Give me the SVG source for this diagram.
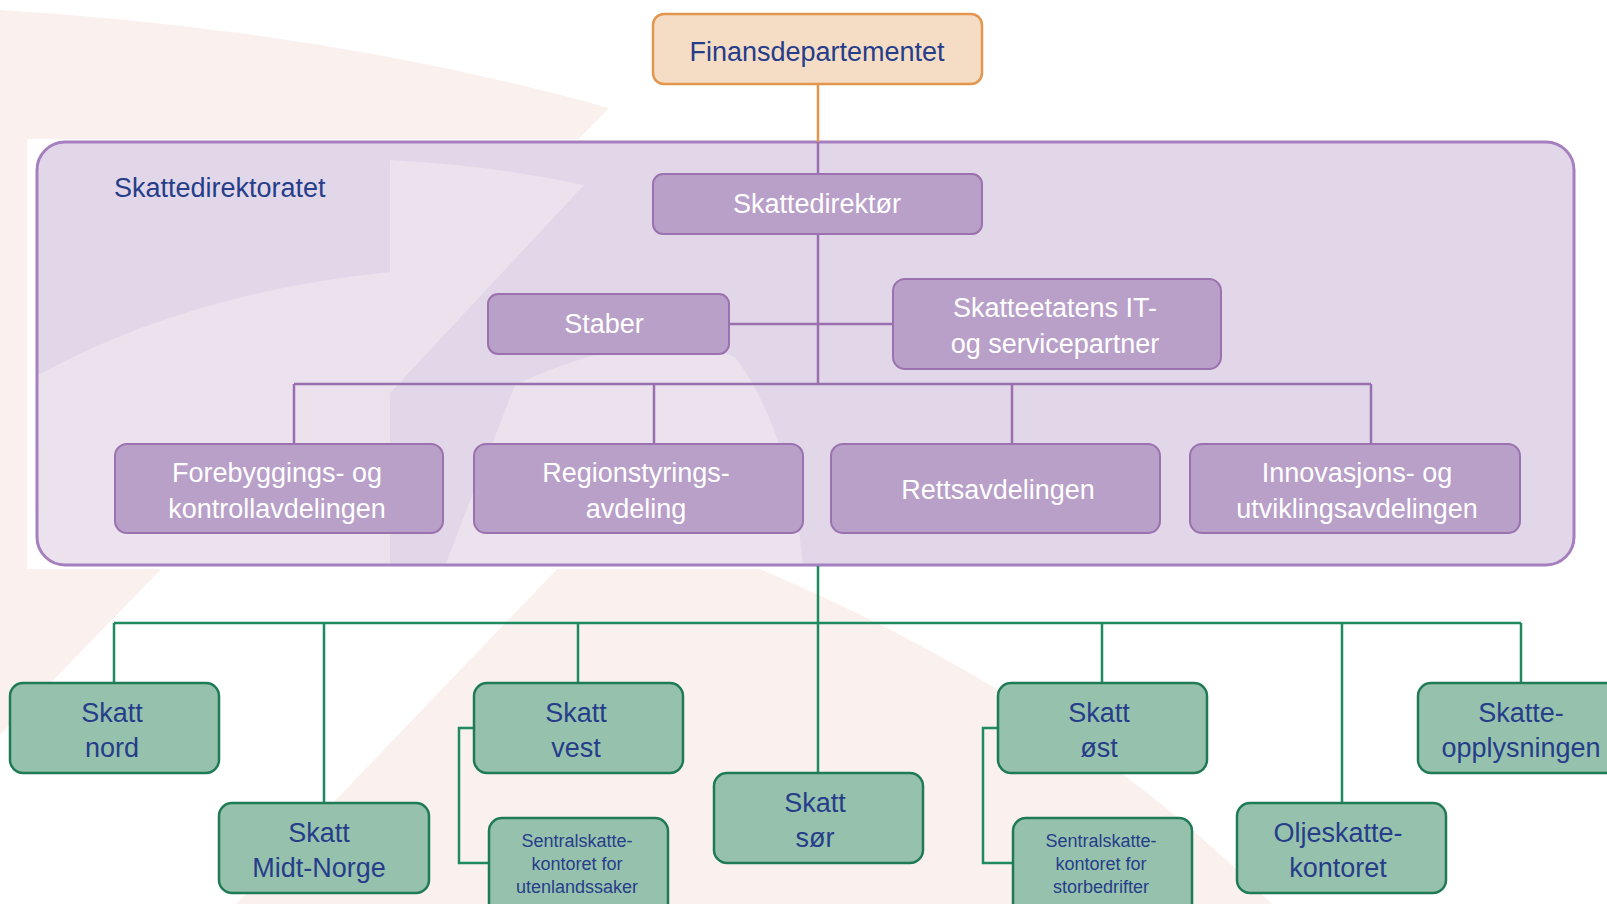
<svg xmlns="http://www.w3.org/2000/svg" width="1607" height="904" viewBox="0 0 1607 904">
  <defs>
    <style>
      text { font-family: "Liberation Sans", Arial, sans-serif; text-anchor: middle; }
      .navy { fill: #263d8a; }
      .white { fill: #ffffff; }
      .t27 { font-size: 27px; }
      .t18 { font-size: 18px; }
      .orange { fill: #f4dcc5; stroke: #e2964e; stroke-width: 2.5; }
      .purple { fill: #b9a0c8; stroke: #9b72b0; stroke-width: 2; }
      .green { fill: #96c2ad; stroke: #1f7a56; stroke-width: 2.5; }
      .pl { stroke: #9a6fb0; stroke-width: 2.5; fill: none; }
      .gl { stroke: #1f8a60; stroke-width: 2.5; fill: none; }
      .ol { stroke: #e2964e; stroke-width: 2.5; fill: none; }
      .pink { fill: #faf1ef; }
      .wm { fill: #ebe2ee; }
    </style>
    <clipPath id="boxclip">
      <rect x="37" y="142" width="1537" height="423" rx="28"/>
    </clipPath>
  </defs>

  <rect x="0" y="0" width="1607" height="904" fill="#ffffff"/>

  <!-- background watermark -->
  <g id="background">
    <path class="pink" d="M0,10 Q330,30 609,108 L0,735 Z"/>
    <path class="pink" d="M580,545 L236,904 L1272,904 Q1050,680 700,545 Z"/>
    <rect x="27" y="139" width="1580" height="430" fill="#ffffff"/>
  </g>

  <!-- Skattedirektoratet container -->
  <g id="skattedirektoratet">
    <rect x="37" y="142" width="1537" height="423" rx="28" fill="#e2d7e8"/>
    <g clip-path="url(#boxclip)">
      <path class="wm" d="M390,160 Q490,165 584,185 L390,393 Z"/>
      <path class="wm" d="M390,272 Q190,292 38,375 L38,566 L390,566 Z"/>
      <path class="wm" d="M445,566 L515,385 Q650,322 735,357 Q790,430 803,566 Z"/>
    </g>
    <rect x="37" y="142" width="1537" height="423" rx="28" fill="none" stroke="#a67fbf" stroke-width="3"/>
    <text class="navy t27" x="114" y="197" style="text-anchor:start">Skattedirektoratet</text>
  </g>

  <!-- connectors -->
  <g id="connectors">
    <line class="ol" x1="818" y1="84" x2="818" y2="142"/>
    <line class="pl" x1="818" y1="142" x2="818" y2="174"/>
    <line class="pl" x1="818" y1="234" x2="818" y2="384"/>
    <line class="pl" x1="729" y1="324" x2="893" y2="324"/>
    <line class="pl" x1="294" y1="384" x2="1371" y2="384"/>
    <line class="pl" x1="294" y1="384" x2="294" y2="444"/>
    <line class="pl" x1="654" y1="384" x2="654" y2="444"/>
    <line class="pl" x1="1012" y1="384" x2="1012" y2="444"/>
    <line class="pl" x1="1371" y1="384" x2="1371" y2="444"/>

    <line class="gl" x1="818" y1="566" x2="818" y2="773"/>
    <line class="gl" x1="114" y1="623" x2="1521" y2="623"/>
    <line class="gl" x1="114" y1="623" x2="114" y2="683"/>
    <line class="gl" x1="324" y1="623" x2="324" y2="803"/>
    <line class="gl" x1="578" y1="623" x2="578" y2="683"/>
    <line class="gl" x1="1102" y1="623" x2="1102" y2="683"/>
    <line class="gl" x1="1342" y1="623" x2="1342" y2="803"/>
    <line class="gl" x1="1521" y1="623" x2="1521" y2="683"/>
    <polyline class="gl" points="474,728 459,728 459,863 489,863"/>
    <polyline class="gl" points="998,728 983,728 983,863 1013,863"/>
  </g>

  <!-- nodes -->
  <g id="finansdepartementet">
    <rect class="orange" x="653" y="14" width="329" height="70" rx="11"/>
    <text class="navy t27" x="817" y="61">Finansdepartementet</text>
  </g>

  <g id="skattedirektor">
    <rect class="purple" x="653" y="174" width="329" height="60" rx="10"/>
    <text class="white t27" x="817" y="213">Skattedirektør</text>
  </g>

  <g id="staber">
    <rect class="purple" x="488" y="294" width="241" height="60" rx="10"/>
    <text class="white t27" x="604" y="333">Staber</text>
  </g>

  <g id="it-servicepartner">
    <rect class="purple" x="893" y="279" width="328" height="90" rx="12"/>
    <text class="white t27" x="1055" y="317">Skatteetatens IT-</text>
    <text class="white t27" x="1055" y="353">og servicepartner</text>
  </g>

  <g id="forebyggings">
    <rect class="purple" x="115" y="444" width="328" height="89" rx="12"/>
    <text class="white t27" x="277" y="482">Forebyggings- og</text>
    <text class="white t27" x="277" y="518">kontrollavdelingen</text>
  </g>

  <g id="regionstyrings">
    <rect class="purple" x="474" y="444" width="329" height="89" rx="12"/>
    <text class="white t27" x="636" y="482">Regionstyrings-</text>
    <text class="white t27" x="636" y="518">avdeling</text>
  </g>

  <g id="rettsavdelingen">
    <rect class="purple" x="831" y="444" width="329" height="89" rx="12"/>
    <text class="white t27" x="998" y="499">Rettsavdelingen</text>
  </g>

  <g id="innovasjons">
    <rect class="purple" x="1190" y="444" width="330" height="89" rx="12"/>
    <text class="white t27" x="1357" y="482">Innovasjons- og</text>
    <text class="white t27" x="1357" y="518">utviklingsavdelingen</text>
  </g>

  <g id="skatt-nord">
    <rect class="green" x="10" y="683" width="209" height="90" rx="13"/>
    <text class="navy t27" x="112" y="722">Skatt</text>
    <text class="navy t27" x="112" y="757">nord</text>
  </g>

  <g id="skatt-midt-norge">
    <rect class="green" x="219" y="803" width="210" height="90" rx="13"/>
    <text class="navy t27" x="319" y="842">Skatt</text>
    <text class="navy t27" x="319" y="877">Midt-Norge</text>
  </g>

  <g id="skatt-vest">
    <rect class="green" x="474" y="683" width="209" height="90" rx="13"/>
    <text class="navy t27" x="576" y="722">Skatt</text>
    <text class="navy t27" x="576" y="757">vest</text>
  </g>

  <g id="sentralskatte-utenland">
    <rect class="green" x="489" y="818" width="179" height="110" rx="13"/>
    <text class="navy t18" x="577" y="847">Sentralskatte-</text>
    <text class="navy t18" x="577" y="870">kontoret for</text>
    <text class="navy t18" x="577" y="893">utenlandssaker</text>
  </g>

  <g id="skatt-sor">
    <rect class="green" x="714" y="773" width="209" height="90" rx="13"/>
    <text class="navy t27" x="815" y="812">Skatt</text>
    <text class="navy t27" x="815" y="847">sør</text>
  </g>

  <g id="skatt-ost">
    <rect class="green" x="998" y="683" width="209" height="90" rx="13"/>
    <text class="navy t27" x="1099" y="722">Skatt</text>
    <text class="navy t27" x="1099" y="757">øst</text>
  </g>

  <g id="sentralskatte-storbedrifter">
    <rect class="green" x="1013" y="818" width="179" height="110" rx="13"/>
    <text class="navy t18" x="1101" y="847">Sentralskatte-</text>
    <text class="navy t18" x="1101" y="870">kontoret for</text>
    <text class="navy t18" x="1101" y="893">storbedrifter</text>
  </g>

  <g id="oljeskattekontoret">
    <rect class="green" x="1237" y="803" width="209" height="90" rx="13"/>
    <text class="navy t27" x="1338" y="842">Oljeskatte-</text>
    <text class="navy t27" x="1338" y="877">kontoret</text>
  </g>

  <g id="skatteopplysningen">
    <rect class="green" x="1418" y="683" width="212" height="90" rx="13"/>
    <text class="navy t27" x="1521" y="722">Skatte-</text>
    <text class="navy t27" x="1521" y="757">opplysningen</text>
  </g>
</svg>
